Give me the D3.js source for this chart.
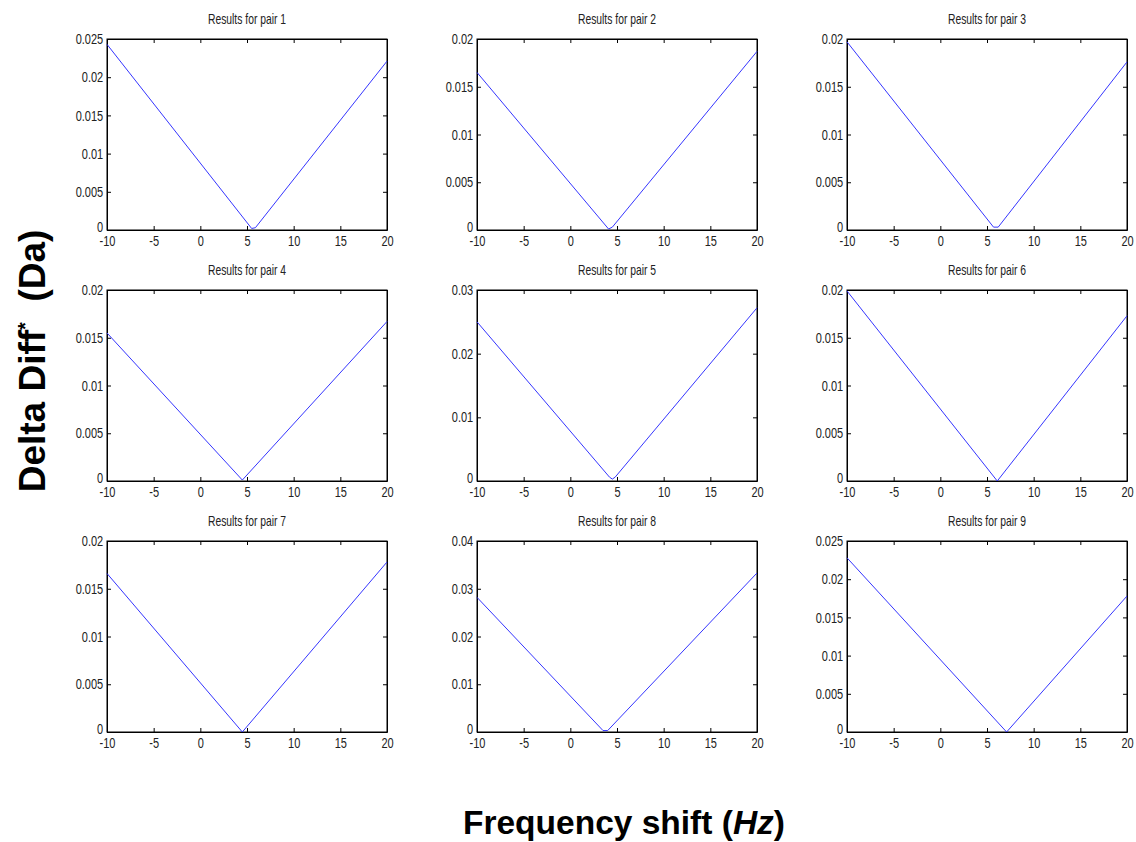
<!DOCTYPE html>
<html>
<head>
<meta charset="utf-8">
<script src="https://cdn.jsdelivr.net/npm/d3@7"></script>
<style>
  body { margin: 0; background: #fff; }
  svg text { font-family: "Liberation Sans", Arial, sans-serif; }
  .big { font-weight: bold; }
</style>
</head>
<body>
<script>
// one title per subplot
var titles = ["Results for pair 1", "Results for pair 2", "Results for pair 3",
              "Results for pair 4", "Results for pair 5", "Results for pair 6",
              "Results for pair 7", "Results for pair 8", "Results for pair 9"];

// y axis top and tick step for each subplot
var yMax  = [0.025, 0.02, 0.02, 0.02, 0.03, 0.02, 0.02, 0.04, 0.025];
var yStep = [0.005, 0.005, 0.005, 0.005, 0.01, 0.005, 0.005, 0.01, 0.005];

var xTicks = [-10, -5, 0, 5, 10, 15, 20];

// [frequency shift, delta diff] vertices
var pair1 = [[-10, 0.0243], [5.5, 0.0002], [5.9, 0.0003], [20, 0.0221]];
var pair2 = [[-10, 0.0165], [4.1, 0.0001], [4.5, 0.0003], [20, 0.0187]];
var pair3 = [[-10, 0.0197], [5.7, 0.0003], [6.2, 0.0003], [20, 0.0176]];
var pair4 = [[-10, 0.0155], [4.5, 0.0001], [20, 0.0167]];
var pair5 = [[-10, 0.0250], [4.2, 0.0006], [4.5, 0.0003], [4.8, 0.0006], [20, 0.0272]];
var pair6 = [[-10, 0.0199], [6.1, 0.0000], [20, 0.0173]];
var pair7 = [[-10, 0.0166], [4.5, 0.0000], [20, 0.0178]];
var pair8 = [[-10, 0.0282], [3.5, 0.0003], [4.0, 0.0003], [20, 0.0333]];
var pair9 = [[-10, 0.0228], [7.1, 0.0000], [20, 0.0178]];
var series = [pair1, pair2, pair3, pair4, pair5, pair6, pair7, pair8, pair9];

var W = 1136, H = 842;
var colX = [107, 477, 847], rowY = [39, 290, 541];
var pw = 280, ph = 191, tick = 4;
var squeeze = "scale(0.76,1)";   // the original text is condensed

var svg = d3.select("body").append("svg").attr("width", W).attr("height", H);

function fmt(d) { return d === 0 ? "0" : String(+d.toFixed(4)); }

series.forEach(function(data, i) {
  var gx = colX[i % 3], gy = rowY[Math.floor(i / 3)];
  var g = svg.append("g").attr("transform", "translate(" + gx + "," + gy + ")");

  var x = d3.scaleLinear().domain([-10, 20]).range([0, pw]);
  var y = d3.scaleLinear().domain([0, yMax[i]]).range([ph, 0]);
  var yTicks = d3.range(0, yMax[i] + yStep[i] / 2, yStep[i]);

  g.append("rect").attr("width", pw).attr("height", ph)
    .attr("fill", "#fff").attr("stroke", "#000").attr("stroke-width", 1);

  var bottom = g.append("g").attr("transform", "translate(0," + ph + ")")
    .call(d3.axisBottom(x).tickValues(xTicks).tickFormat(function(d) { return String(d); })
      .tickSizeInner(-tick).tickSizeOuter(0).tickPadding(6));
  var top = g.append("g")
    .call(d3.axisTop(x).tickValues(xTicks).tickFormat("")
      .tickSizeInner(-tick).tickSizeOuter(0));
  var left = g.append("g")
    .call(d3.axisLeft(y).tickValues(yTicks).tickFormat(fmt)
      .tickSizeInner(-tick).tickSizeOuter(0).tickPadding(5));
  var right = g.append("g").attr("transform", "translate(" + pw + ",0)")
    .call(d3.axisRight(y).tickValues(yTicks).tickFormat("")
      .tickSizeInner(-tick).tickSizeOuter(0));

  [bottom, top, left, right].forEach(function(a) {
    a.select(".domain").attr("stroke", "#000");
    a.selectAll(".tick line").attr("stroke", "#000");
    a.selectAll("text").attr("fill", "#222").style("font-size", "14.5px")
      .attr("font-family", null).attr("transform", squeeze);
  });
  bottom.selectAll("text").attr("dy", "0.71em");
  // the zero label sits a little above the corner, as in the original
  left.selectAll(".tick text").filter(function(d) { return d === 0; }).attr("dy", "0.1em");

  g.append("path").datum(data)
    .attr("fill", "none").attr("stroke", "#3535ff").attr("stroke-width", 1)
    .attr("d", d3.line().x(function(d) { return x(d[0]); }).y(function(d) { return y(d[1]); }));

  g.append("text").attr("transform", "translate(" + (pw / 2) + ",-15) scale(0.74,1)")
    .attr("text-anchor", "middle").style("font-size", "14px").attr("fill", "#222")
    .text(titles[i]);
});

var yl = svg.append("text").attr("class", "big")
  .attr("transform", "translate(45,361) rotate(-90)")
  .attr("text-anchor", "middle").style("font-size", "37px");
yl.append("tspan").text("Delta Diff");
yl.append("tspan").attr("dy", "-13").style("font-size", "20px").text("*");
yl.append("tspan").attr("dy", "13").text("\u00a0\u00a0(Da)");

var xl = svg.append("text").attr("class", "big")
  .attr("x", 624).attr("y", 834).attr("text-anchor", "middle").style("font-size", "33.5px");
xl.append("tspan").text("Frequency shift (");
xl.append("tspan").style("font-style", "italic").text("Hz");
xl.append("tspan").text(")");
</script>
</body>
</html>
